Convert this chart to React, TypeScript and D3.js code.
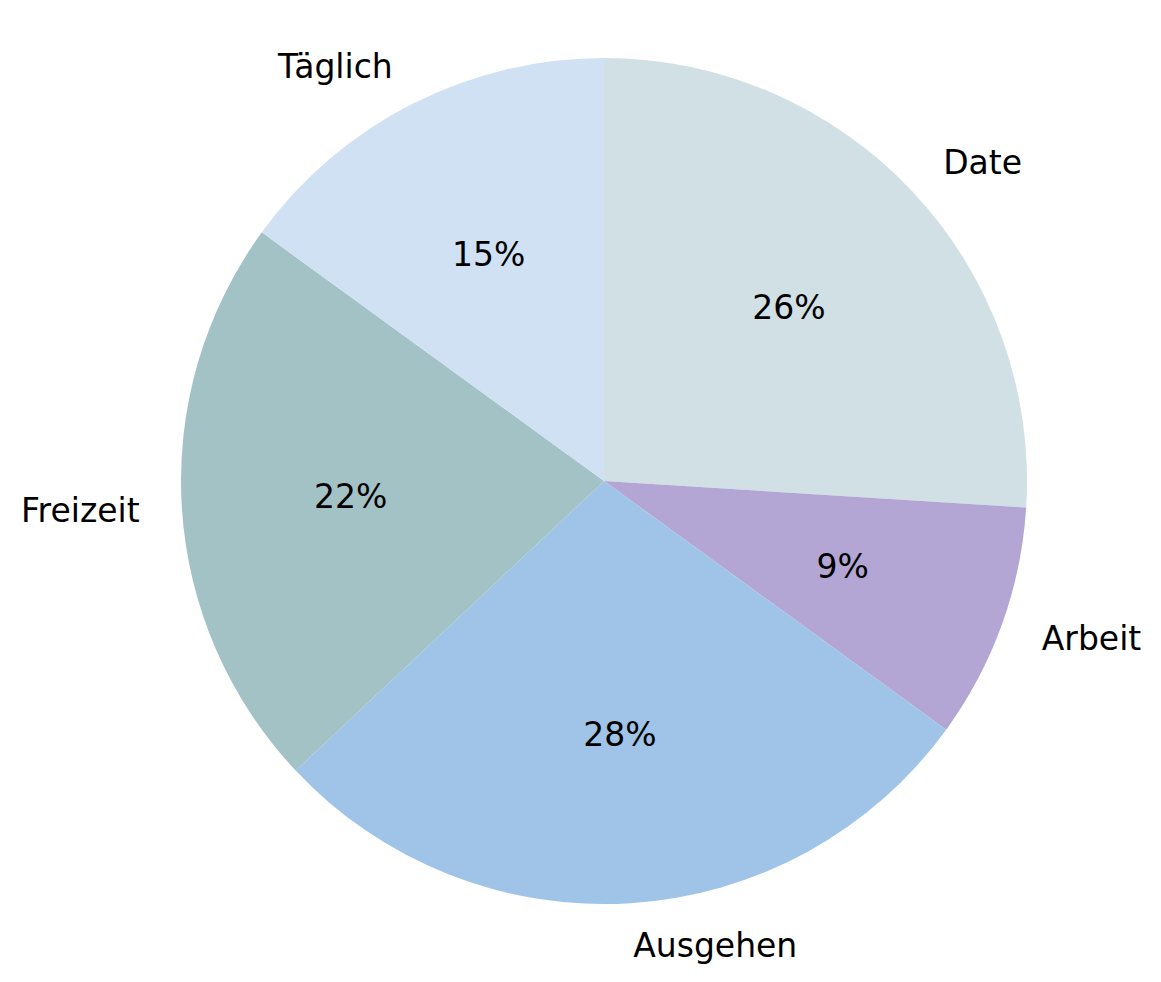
import * as d3 from "d3"

// slice data, in drawing order (clockwise from 12 o'clock)
const labels = ["Date", "Arbeit", "Ausgehen", "Freizeit", "Täglich"]
const values = [26, 9, 28, 22, 15]
const colors = ["#d1e0e4", "#b3a6d5", "#9fc4e8", "#a3c2c6", "#cfe1f2"]

const W = 1161
const H = 982
const cx = 604
const cy = 481
const R = 423

export default function App() {
  const pie = d3
    .pie<number>()
    .sort(null)
    .startAngle(0)
    .endAngle(2 * Math.PI)
  const arcs = pie(values)
  const arc = d3.arc<d3.PieArcDatum<number>>().innerRadius(0).outerRadius(R)
  const total = d3.sum(values)

  // d3 angle: 0 at top, clockwise
  const pos = (a: number, dist: number) => [dist * Math.sin(a), -dist * Math.cos(a)]

  return (
    <svg
      width={W}
      height={H}
      style={{ position: "absolute", left: 0, top: 0, background: "#fff" }}
      fontFamily="DejaVu Sans, sans-serif"
    >
      <g transform={`translate(${cx},${cy})`}>
        {arcs.map((a, i) => (
          <path key={i} d={arc(a) ?? ""} fill={colors[i]} />
        ))}
        {arcs.map((a, i) => {
          const mid = (a.startAngle + a.endAngle) / 2
          const [lx, ly] = pos(mid, R * 1.1)
          const [px, py] = pos(mid, R * 0.6)
          return (
            <g key={"t" + i} fontSize={33} fill="#000">
              <text
                x={lx}
                y={ly}
                textAnchor={lx > 0 ? "start" : "end"}
                dominantBaseline="central"
              >
                {labels[i]}
              </text>
              <text x={px} y={py} textAnchor="middle" dominantBaseline="central">
                {`${Math.round((values[i] / total) * 100)}%`}
              </text>
            </g>
          )
        })}
      </g>
    </svg>
  )
}
